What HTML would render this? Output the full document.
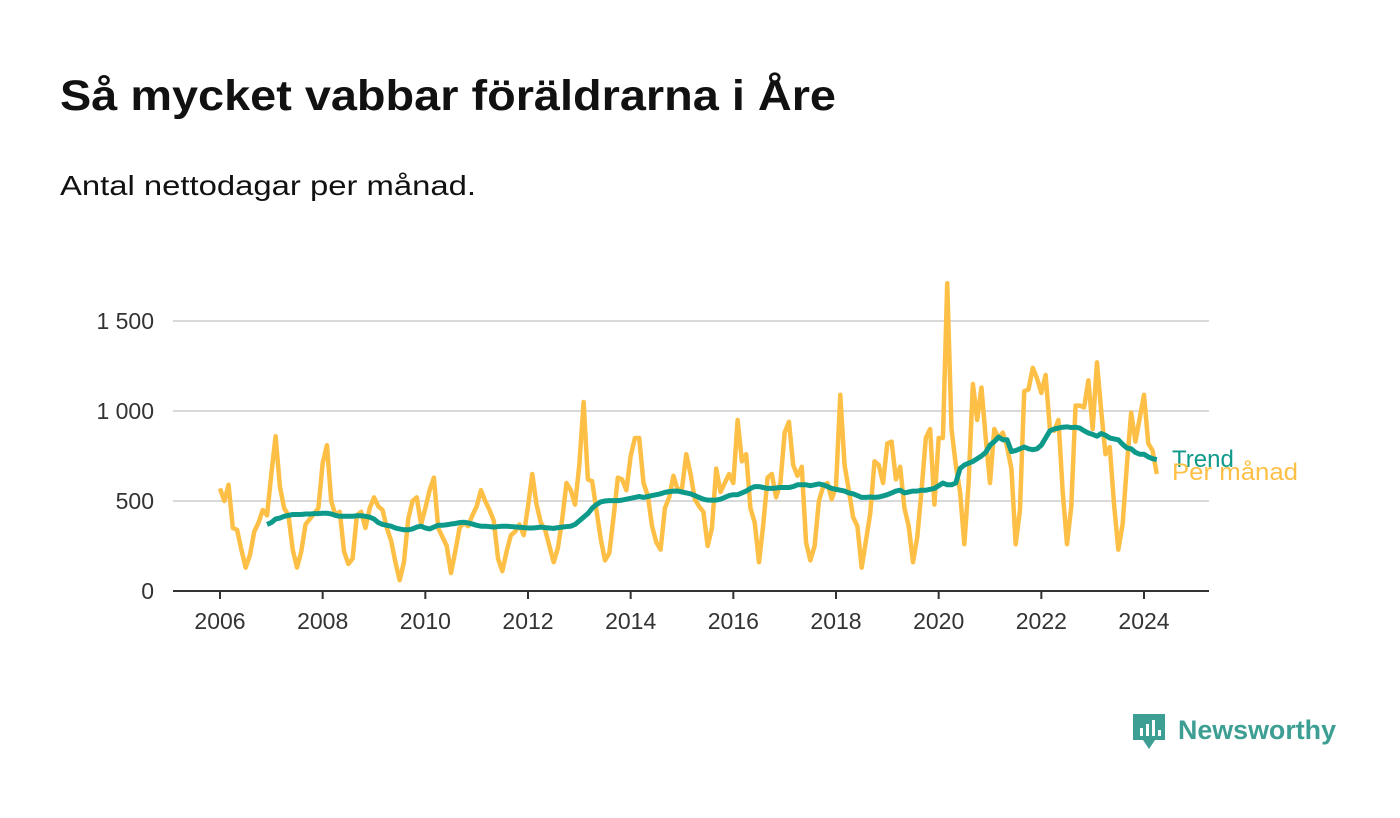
<!DOCTYPE html>
<html><head><meta charset="utf-8"><style>
body{margin:0;background:#fff;width:1400px;height:813px;overflow:hidden;font-family:"Liberation Sans",sans-serif;}
svg text{font-family:"Liberation Sans",sans-serif;}
</style></head><body>
<svg width="1400" height="813">
<text x="60" y="110" font-size="43" font-weight="bold" fill="#111" textLength="776" lengthAdjust="spacingAndGlyphs">Så mycket vabbar föräldrarna i Åre</text>
<text x="60" y="195" font-size="28" fill="#111" textLength="416" lengthAdjust="spacingAndGlyphs">Antal nettodagar per månad.</text>
<g id="grid"></g><g id="axes"></g><g id="series"></g>
<g>
<path d="M1133 714h32v26h-10l-6 9-6-9h-10z" fill="#3d9e94"/>
<rect x="1140" y="728" width="3" height="8" fill="#fff"/><rect x="1146" y="724" width="3" height="12" fill="#fff"/><rect x="1152" y="720" width="3" height="16" fill="#fff"/><rect x="1158" y="730" width="3" height="6" fill="#fff"/>
<text x="1178" y="739" font-size="27" font-weight="bold" fill="#3d9e94" textLength="158" lengthAdjust="spacingAndGlyphs">Newsworthy</text>
</g>
</svg>
<script>
const monthly=[570,500,590,350,340,230,130,200,330,380,450,420,
650,860,580,460,420,230,130,220,370,400,430,460,
710,810,500,420,440,220,150,180,420,440,350,460,
520,470,450,350,280,160,60,160,400,500,520,370,
460,560,630,350,300,250,100,220,350,380,360,420,
470,560,500,450,390,180,110,220,310,330,370,310,
470,650,480,380,340,250,160,240,400,600,560,480,
700,1050,620,610,450,290,170,210,410,630,620,560,
750,850,850,600,530,360,270,230,460,520,640,560,
570,760,650,510,470,440,250,350,680,550,600,650,
600,950,720,760,460,380,160,370,630,650,520,600,
880,940,700,640,690,270,170,250,500,580,600,510,
580,1090,700,560,410,360,130,280,430,720,700,600,
820,830,620,690,460,360,160,300,560,850,900,480,
850,850,1710,900,700,550,260,600,1150,950,1130,850,
600,900,850,880,800,680,260,450,1110,1120,1240,1180,
1100,1200,900,890,950,550,260,470,1030,1030,1020,1170,
900,1270,1000,760,800,480,230,370,700,990,830,960,
1090,820,780,650];
const trendStart=11;
const trend=[370,
380,400,405,415,420,425,425,425,428,428,430,430,
432,432,428,420,415,415,415,415,418,418,415,410,
400,380,370,365,360,350,345,340,340,345,355,360,
350,345,355,365,365,368,372,375,380,382,378,372,
365,360,360,358,355,358,360,360,358,356,354,352,
350,350,352,355,352,350,348,352,355,358,360,370,
390,410,430,460,480,495,500,502,502,502,505,510,
515,520,525,520,525,530,535,540,548,552,555,555,
550,545,540,530,520,510,505,505,505,510,520,530,
535,535,545,555,570,580,580,575,570,570,572,575,
575,575,580,590,590,590,585,590,595,590,580,570,
565,560,555,545,540,530,520,520,522,520,522,528,
535,545,555,560,545,550,555,555,560,560,565,570,
585,600,590,590,600,680,700,710,720,735,750,770,
810,830,855,840,840,775,780,790,800,790,785,790,
810,850,890,900,905,910,912,908,910,905,890,878,
870,860,875,865,850,845,840,815,795,790,770,760,
760,745,735,730];
const yTicks=[0,500,1000,1500];
const yTickLabels=["0","500","1 000","1 500"];
const xYears=[2006,2008,2010,2012,2014,2016,2018,2020,2022,2024];
const NS="http://www.w3.org/2000/svg";
const X=m=>220+m*(924/216);
const Y=v=>591-v*0.18;
function mk(t,a,p){const e=document.createElementNS(NS,t);for(const k in a)e.setAttribute(k,a[k]);p.appendChild(e);return e;}
const grid=document.getElementById('grid'),axes=document.getElementById('axes'),ser=document.getElementById('series');
yTicks.forEach((v,i)=>{
 if(v>0){const l=mk('line',{x1:173,x2:1209,y1:Y(v),y2:Y(v),stroke:'#d9d9d9','stroke-width':2},grid);
 
 }
 const t=mk('text',{x:154,y:Y(v)+8,'text-anchor':'end','font-size':23,fill:'#333'},axes);t.textContent=yTickLabels[i];
 
 
});
const ax=mk('line',{x1:173,x2:1209,y1:591,y2:591,stroke:'#333','stroke-width':2},axes);


xYears.forEach(y=>{const x=X((y-2006)*12);
 const tk=mk('line',{x1:x,x2:x,y1:591,y2:599,stroke:'#333','stroke-width':2},axes);
 
 
 const t=mk('text',{x:x,y:629,'text-anchor':'middle','font-size':23,fill:'#333'},axes);t.textContent=y;
 
 
});
const p1=mk('polyline',{points:monthly.map((v,i)=>X(i)+','+Y(v)).join(' '),fill:'none',stroke:'#fdbf45','stroke-width':4.5,'stroke-linejoin':'round'},ser);


const p2=mk('polyline',{points:trend.map((v,i)=>X(i+trendStart)+','+Y(v)).join(' '),fill:'none',stroke:'#0e9a8a','stroke-width':5,'stroke-linejoin':'round'},ser);


const lt=mk('text',{x:1172,y:467,'font-size':24,fill:'#0e9a8a'},ser);lt.textContent='Trend';


const lm=mk('text',{x:1172,y:480,'font-size':24,fill:'#fdbf45',textLength:126,lengthAdjust:'spacingAndGlyphs'},ser);lm.textContent='Per månad';


</script>
</body></html>
